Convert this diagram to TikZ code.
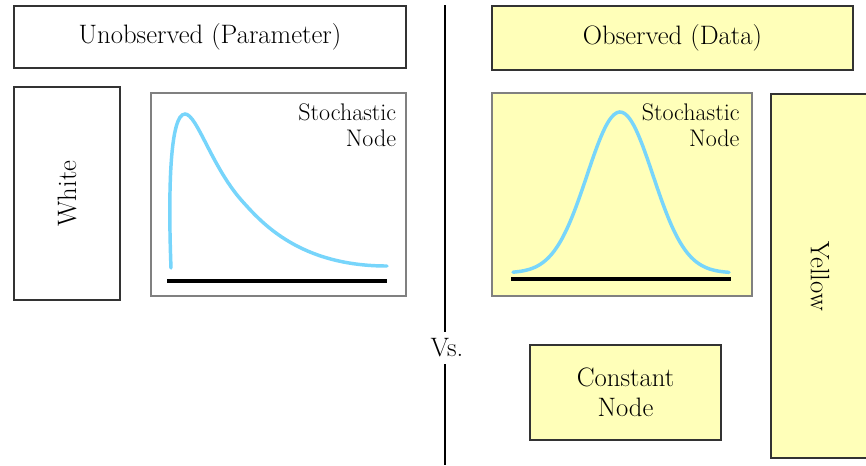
\documentclass[tikz,border=0pt]{standalone}
\usetikzlibrary{positioning}
\definecolor{paleyellow}{HTML}{FFFFB9}
\definecolor{curveblue}{HTML}{77D5FB}
\definecolor{framegray}{HTML}{808080}

\begin{document}
\begin{tikzpicture}[
    x=0.75pt, y=-0.75pt,
    % --- STYLES ---
    box/.style={
            draw=black!80,
            line width=0.9pt,
            fill=white,
            align=center,
            inner sep=0pt,
            font=\fontsize{20}{22.5}\selectfont
        },
    yellowbox/.style={box, fill=paleyellow},
    stochbox/.style={
            draw=framegray,
            line width=1.6pt,
            inner sep=0pt,
            minimum width=191.25pt,
            minimum height=152.25pt
        },
    stochlbl/.style={
            align=right,
            inner sep=0pt,
            font=\fontsize{18}{19.5}\selectfont
        },
    density/.style={draw=curveblue, line width=2.6pt, line cap=round},
    axis/.style={line width=3pt},
    divider/.style={line width=2pt}
    ]
    \useasboundingbox (0,0) rectangle (866,465);

    % --- LEFT SIDE (Unobserved) ---
    \node[box, minimum width=294pt, minimum height=46.5pt] (unobs) at (210,37) {Unobserved (Parameter)};
    \node[box, rotate=90, minimum width=159.75pt, minimum height=79.5pt] (white) at (67,193.5) {White};
    \node[stochbox, fill=white] (stochL) at (278.5,194.5) {};
    \node[stochlbl, below left=9pt and 8pt of stochL.north east] (stochLlbl) {Stochastic\\Node};

    % skewed density
    \draw[density] (171,268) .. controls (168,190) and (170,114) .. (185,114)
        .. controls (197,114) and (212,168) .. (243,202)
        .. controls (262,223) and (300,266) .. (387,266);
    \draw[axis] (167,281) -- (387,281);

    % --- DIVIDER ---
    \coordinate (top) at (445,5);
    \coordinate (bottom) at (445,465);
    \node[font=\fontsize{20}{22.5}\selectfont, inner sep=5pt] (vs) at (447,348) {Vs.};
    \draw[divider] (top) -- (top |- vs.north);
    \draw[divider] (bottom |- vs.south) -- (bottom);

    % --- RIGHT SIDE (Observed) ---
    \node[yellowbox, minimum width=270.75pt, minimum height=48pt] (obs) at (672.5,38) {Observed (Data)};
    \node[stochbox, fill=paleyellow, minimum width=195pt] (stochR) at (622,194.5) {};
    \node[stochlbl, below left=9pt and 10pt of stochR.north east] (stochRlbl) {Stochastic\\Node};

    % symmetric density
    \draw[density] plot[domain=513:729, samples=80, smooth] (\x, {273-161*exp(-((\x-620)/33)^2/2)});
    \draw[axis] (511,279) -- (731,279);

    \node[yellowbox, rotate=-90, minimum width=273pt, minimum height=73.5pt] (yellow) at (820,276) {Yellow};
    \node[yellowbox, minimum width=143.25pt, minimum height=71.25pt] (const) at (625.5,392.5) {Constant\\Node};

\end{tikzpicture}
\end{document}
